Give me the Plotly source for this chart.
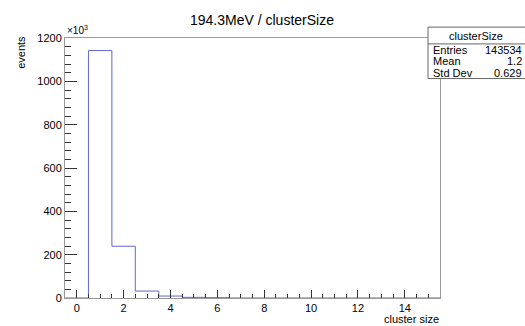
import plotly.graph_objects as go

# Histogram data (bin centres 0..15, unit width)
bin_centers = list(range(0, 16))
counts = [0, 1142000, 239000, 32000, 9000, 3000, 1500, 0, 0, 0, 0, 0, 0, 0, 0, 0]
stat_labels = ["Entries", "Mean", "Std Dev"]
stat_values = ["143534", "1.2", "0.629"]
title_text = "194.3MeV / clusterSize"

edges = [c - 0.5 for c in bin_centers] + [bin_centers[-1] + 0.5]
yk = [c / 1000 for c in counts]
ystep = yk + [yk[-1]]

W, H = 525, 326
L, R, T, B = 65, 85, 38, 25
pw, ph = W - L - R, H - T - B

def px(x):
    return (x - L) / pw

def py(y):
    return (H - B - y) / ph

font = "Liberation Sans, Arial, sans-serif"
fig = go.Figure()
fig.add_trace(go.Scatter(x=edges, y=ystep, mode="lines", line_shape="hv",
                         line=dict(color="#6464d2", width=1), hoverinfo="skip"))

fig.update_layout(
    width=W, height=H, margin=dict(l=L, r=R, t=T, b=B),
    paper_bgcolor="white", plot_bgcolor="white", showlegend=False,
    font=dict(family=font, size=11, color="black"),
)
fig.update_xaxes(range=[-0.5, 15.5], tickvals=list(range(0, 16, 2)), ticks="inside",
                 ticklen=8, tickcolor="#333", showgrid=False, zeroline=False,
                 showline=True, linecolor="#999", linewidth=1, mirror=True,
                 minor=dict(dtick=0.5, ticks="inside", ticklen=4, tickcolor="#333", showgrid=False),
                 tickfont=dict(size=11))
fig.update_yaxes(range=[0, 1200], tickvals=list(range(0, 1201, 200)), ticks="inside",
                 ticklen=12, tickcolor="#333", showgrid=False, zeroline=False,
                 showline=True, linecolor="#999", linewidth=1, mirror=True,
                 minor=dict(dtick=40, ticks="inside", ticklen=6, tickcolor="#333", showgrid=False),
                 tickfont=dict(size=11))

ann = []
ann.append(dict(text=title_text, x=px(262), y=py(20), xref="paper", yref="paper",
                showarrow=False, font=dict(size=14), xanchor="center", yanchor="middle"))
ann.append(dict(text="×10<sup>3</sup>", x=0, y=1, xref="paper", yref="paper",
                showarrow=False, font=dict(size=10), xanchor="left", yanchor="bottom"))
ann.append(dict(text="events", x=px(21), y=py(53), xref="paper", yref="paper",
                showarrow=False, font=dict(size=11), textangle=-90,
                xanchor="center", yanchor="middle"))
ann.append(dict(text="cluster size", x=1, y=py(315), xref="paper", yref="paper",
                showarrow=False, font=dict(size=11), xanchor="right", yanchor="top",
                borderpad=0))

# Stat box
bx0, bx1, by0, by1, bmid = 428, 535, 27, 79, 44
shapes = [
    dict(type="rect", xref="paper", yref="paper", x0=px(bx0), x1=px(bx1), y0=py(by1), y1=py(by0),
         line=dict(color="#666", width=1), fillcolor="white", layer="above"),
    dict(type="line", xref="paper", yref="paper", x0=px(bx0), x1=px(bx1), y0=py(bmid), y1=py(bmid),
         line=dict(color="#666", width=1), layer="above"),
]
ann.append(dict(text="clusterSize", x=px(476), y=py(36), xref="paper", yref="paper",
                showarrow=False, font=dict(size=11), xanchor="center", yanchor="middle"))
for i, (lab, val) in enumerate(zip(stat_labels, stat_values)):
    yc = 50 + i * 11.5
    ann.append(dict(text=lab, x=px(431), y=py(yc), xref="paper", yref="paper",
                    showarrow=False, font=dict(size=11), xanchor="left", yanchor="middle"))
    ann.append(dict(text=val, x=px(524), y=py(yc), xref="paper", yref="paper",
                    showarrow=False, font=dict(size=11), xanchor="right", yanchor="middle"))

fig.update_layout(annotations=ann, shapes=shapes)
fig.write_html("out.html")
